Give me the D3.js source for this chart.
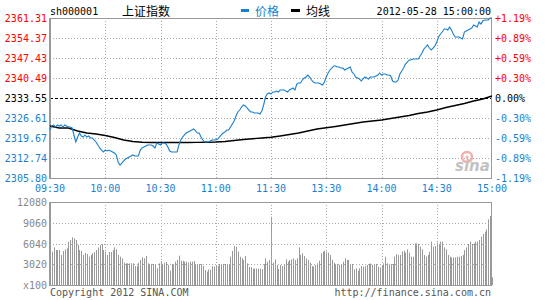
<!DOCTYPE html>
<html lang="zh">
<head>
<meta charset="UTF-8">
<title>上证指数 分时</title>
<script src="https://d3js.org/d3.v7.min.js"></script>
<style>
  body { margin: 0; background: #fff; }
  svg { display: block; }
  text { font-family: "DejaVu Sans Mono", monospace; font-size: 10px; }
  .cjk { font-family: "Noto Sans CJK SC", sans-serif; font-size: 12px; }
</style>
</head>
<body>
<svg id="chart" width="545" height="300"></svg>
<script>
// minute prices, 09:30 .. 11:30, 13:01 .. 15:00 (241 points)
const prices = [
  2322.45, 2323.84, 2324.19, 2323.49, 2324.19, 2323.84, 2324.19, 2323.49, 2324.19, 2323.84,
  2323.49, 2323.49, 2323.15, 2320.72, 2318.29, 2320.02, 2321.41, 2320.37, 2320.02, 2320.72,
  2320.02, 2320.37, 2319.68, 2319.68, 2318.98, 2318.29, 2317.25, 2316.21, 2315.51, 2314.82,
  2315.51, 2315.17, 2315.51, 2315.17, 2314.82, 2314.47, 2313.78, 2311.35, 2310.31, 2311.00,
  2311.70, 2312.39, 2312.74, 2313.09, 2313.43, 2313.78, 2313.43, 2313.43, 2313.43, 2315.51,
  2316.21, 2316.55, 2316.90, 2317.25, 2317.25, 2317.25, 2316.90, 2316.21, 2317.94, 2317.60,
  2317.25, 2317.94, 2317.94, 2317.60, 2316.55, 2315.17, 2314.82, 2314.82, 2314.82, 2314.82,
  2317.25, 2318.98, 2320.02, 2320.72, 2321.41, 2321.76, 2322.11, 2322.45, 2322.80, 2322.11,
  2321.41, 2321.41, 2320.02, 2318.98, 2318.29, 2318.29, 2318.29, 2318.64, 2318.98, 2318.98,
  2318.98, 2319.33, 2320.02, 2320.72, 2321.41, 2321.76, 2322.45, 2322.45, 2323.49, 2324.53,
  2325.58, 2327.31, 2328.70, 2329.39, 2330.43, 2331.13, 2330.78, 2330.09, 2329.39, 2328.70,
  2328.70, 2328.35, 2328.35, 2328.35, 2328.00, 2329.04, 2331.13, 2333.90, 2334.94, 2335.29,
  2334.94,
  2335.64, 2335.64, 2335.98, 2335.64, 2336.33, 2336.33, 2336.33, 2335.98, 2335.64,
  2336.33, 2336.68, 2337.02, 2336.33, 2338.41, 2338.76, 2338.76, 2339.80, 2340.49, 2340.84,
  2341.53, 2340.84, 2339.80, 2339.11, 2338.76, 2338.76, 2338.76, 2338.41, 2338.07, 2339.11,
  2340.84, 2342.23, 2343.27, 2343.96, 2344.66, 2344.66, 2344.31, 2344.31, 2343.96, 2343.96,
  2343.27, 2343.62, 2343.96, 2344.31, 2342.58, 2341.88, 2340.84, 2340.49, 2340.15, 2339.45,
  2340.15, 2340.84, 2340.49, 2340.15, 2340.84, 2340.84, 2340.84, 2341.19, 2341.53, 2342.23,
  2341.53, 2341.88, 2341.88, 2341.53, 2341.53, 2341.19, 2339.45, 2339.11, 2339.11, 2339.80,
  2341.88, 2342.92, 2343.96, 2345.35, 2346.04, 2346.74, 2346.74, 2347.09, 2347.09, 2347.09,
  2347.09, 2348.13, 2349.17, 2350.55, 2351.25, 2351.94, 2350.90, 2350.21, 2350.90, 2351.60,
  2352.98, 2354.72, 2355.76, 2356.45, 2357.49, 2357.49, 2357.15, 2358.19, 2357.15, 2355.76,
  2354.72, 2354.72, 2354.72, 2354.37, 2354.02, 2356.45, 2356.80, 2357.15, 2357.49, 2357.84,
  2358.88, 2358.53, 2358.19, 2359.92, 2359.23, 2360.27, 2360.62, 2360.62, 2360.62, 2361.31,
  2361.31
];

// average price line, read every 5 minutes
const avgMinutes = [0, 5, 10, 15, 20, 25, 30, 35, 40, 45, 50, 55, 60, 65, 70, 75, 80, 85, 90, 95,
  100, 105, 110, 115, 120, 125, 130, 135, 140, 145, 150, 155, 160, 165, 170, 175, 180, 185, 190,
  195, 200, 205, 210, 215, 220, 225, 230, 235, 240];
const avgPrices = [
  2323.84, 2323.15, 2323.15, 2322.11, 2321.41, 2321.06, 2320.54, 2319.85, 2318.98, 2318.46,
  2318.18, 2318.12, 2318.12, 2318.12, 2318.12, 2318.12, 2318.15, 2318.22, 2318.29, 2318.46,
  2318.81, 2319.16, 2319.43, 2319.68, 2319.92, 2320.37, 2320.89, 2321.41, 2322.11, 2322.80,
  2323.22, 2323.67, 2324.19, 2324.71, 2325.23, 2325.58, 2325.92, 2326.44, 2326.96, 2327.48,
  2328.18, 2328.70, 2329.39, 2330.26, 2330.95, 2331.65, 2332.51, 2333.21, 2334.25
];

// volume per minute (x100)
const volumes = [
  4800, 4850, 5480, 5090, 5090, 5090, 4370, 4950, 5190, 5340,
  6300, 6550, 6940, 6790, 6550, 5820, 5090, 4950, 4370, 4660,
  4510, 4120, 4370, 4610, 4800, 5090, 5480, 5820, 5970, 5090,
  4850, 4370, 4800, 4800, 5090, 5480, 5190, 4370, 4120, 3880,
  3250, 3150, 3150, 3150, 3150, 3150, 2760, 2760, 3250, 3640,
  4030, 3880, 4220, 3150, 3060, 3060, 3060, 2910, 2430, 3150,
  3490, 3060, 3250, 3350, 2910, 2090, 3060, 3060, 3400, 3640,
  4270, 3540, 3540, 3400, 3400, 3250, 3400, 3400, 3490, 3060,
  2910, 3060, 3060, 2760, 2180, 1940, 2280, 2180, 2760, 2670,
  2910, 2760, 3060, 3060, 3060, 3060, 3060, 3060, 4120, 4950,
  5680, 5580, 4850, 4120, 3880, 3640, 4220, 3150, 2620, 2620,
  2380, 2380, 2380, 2380, 2380, 2330, 3060, 3880, 3400, 3640,
  9940,
  3250, 3730, 2910, 2330, 2910, 2760, 2910, 3730, 3400, 3640,
  3730, 3880, 3640, 3880, 5480, 4370, 4610, 4220, 3880, 3640,
  3250, 2760, 2670, 2910, 3150, 3540, 4610, 4850, 5000, 4850,
  4710, 4370, 3640, 3250, 2910, 3060, 2910, 3060, 3400, 3880,
  3640, 3640, 3060, 3060, 2280, 2430, 2090, 2430, 2760, 2670,
  2760, 2910, 3060, 3150, 2910, 3060, 3060, 2670, 2570, 2910,
  3150, 4120, 3150, 3060, 3060, 3060, 4120, 4510, 4370, 4370,
  4850, 5000, 4710, 5190, 4710, 4120, 4120, 6060, 6060, 5970,
  5580, 5190, 4370, 4120, 4370, 4850, 6310, 5580, 5680, 6160,
  5970, 6310, 6310, 5480, 5190, 4370, 4120, 4020, 4020, 4020,
  4120, 4120, 4220, 4370, 5090, 5480, 5970, 6310, 5970, 6060,
  6310, 6310, 6550, 7030, 7420, 7760, 8100, 9550, 10040, 1110
];

const prevClose = 2333.55;
const priceTicks = [2361.31, 2354.37, 2347.43, 2340.49, 2333.55, 2326.61, 2319.67, 2312.74, 2305.80];
const pctTicks = ["+1.19%", "+0.89%", "+0.59%", "+0.30%", "0.00%", "-0.30%", "-0.59%", "-0.89%", "-1.19%"];
const timeMinutes = [0, 30, 60, 90, 120, 150, 180, 210, 240];
const timeLabels = ["09:30", "10:00", "10:30", "11:00", "11:30", "13:30", "14:00", "14:30", "15:00"];
const volTicks = [12080, 9060, 6040, 3020, 0];
const volTickLabels = ["12080", "9060", "6040", "3020", "x100"];

const RED = "#ff0000", BLUE = "#1a7fcc", GRID = "#a8a8a8", FRAME = "#999";

const svg = d3.select("#chart");

const x = d3.scaleLinear().domain([0, 240]).range([50, 492]);
const y = d3.scaleLinear().domain([2305.80, 2361.31]).range([178, 18]);
const yv = d3.scaleLinear().domain([0, 12080]).range([285, 202]);

const px = v => Math.round(v) + 0.5;

// ---------- main panel ----------
const main = svg.append("g");

// horizontal grid
main.selectAll("line.hg").data(priceTicks.filter(d => d !== prevClose && d !== 2361.31 && d !== 2305.80))
  .join("line").attr("class", "hg")
  .attr("x1", 50).attr("x2", 492)
  .attr("y1", d => px(y(d))).attr("y2", d => px(y(d)))
  .attr("stroke", GRID).attr("stroke-dasharray", "1,2");

// vertical grid
main.selectAll("line.vg").data(timeMinutes.slice(1, -1))
  .join("line").attr("class", "vg")
  .attr("x1", d => px(x(d))).attr("x2", d => px(x(d)))
  .attr("y1", 18).attr("y2", 178)
  .attr("stroke", GRID).attr("stroke-dasharray", "1,2");

// prev close baseline
main.append("line")
  .attr("x1", 50).attr("x2", 492)
  .attr("y1", px(y(prevClose))).attr("y2", px(y(prevClose)))
  .attr("stroke", "#000").attr("stroke-dasharray", "3,2");

// frame
main.append("rect").attr("x", 50.5).attr("y", 18.5).attr("width", 441).attr("height", 160)
  .attr("fill", "none").attr("stroke", FRAME);
main.append("line").attr("x1", 50).attr("x2", 50).attr("y1", 18).attr("y2", 179)
  .attr("stroke", FRAME).attr("stroke-width", 2);

// sina watermark
const wm = main.append("g").attr("opacity", 0.85);
wm.append("circle").attr("cx", 467).attr("cy", 157).attr("r", 5)
  .attr("fill", "none").attr("stroke", "#f3a3a3").attr("stroke-width", 2.5);
wm.append("circle").attr("cx", 467).attr("cy", 157).attr("r", 1.5).attr("fill", "#f3a3a3");
wm.append("text").attr("x", 455).attr("y", 171)
  .style("font-family", "DejaVu Sans").style("font-size", "15px")
  .style("font-style", "italic").style("font-weight", "bold")
  .attr("fill", "#b8b8b8").text("sina");

// average line
main.append("path")
  .datum(avgMinutes.map((m, i) => [m, avgPrices[i]]))
  .attr("fill", "none").attr("stroke", "#000").attr("stroke-width", 1.4)
  .attr("d", d3.line().x(d => x(d[0])).y(d => y(d[1])));

// price line
main.append("path")
  .datum(prices)
  .attr("fill", "none").attr("stroke", BLUE).attr("stroke-width", 1.1)
  .attr("d", d3.line().x((d, i) => x(i)).y(d => y(d)));

// left price labels
main.selectAll("text.pl").data(priceTicks).join("text").attr("class", "pl")
  .attr("x", 47).attr("y", d => y(d) + 4).attr("text-anchor", "end")
  .attr("fill", d => d > prevClose ? RED : d < prevClose ? BLUE : "#000")
  .text(d => d.toFixed(2));

// right percent labels
main.selectAll("text.pr").data(priceTicks).join("text").attr("class", "pr")
  .attr("x", 495).attr("y", d => y(d) + 4)
  .attr("fill", d => d > prevClose ? RED : d < prevClose ? BLUE : "#000")
  .text((d, i) => pctTicks[i]);

// time labels
main.selectAll("text.tl").data(timeMinutes).join("text").attr("class", "tl")
  .attr("x", d => x(d)).attr("y", 192).attr("text-anchor", "middle")
  .attr("fill", BLUE).text((d, i) => timeLabels[i]);

// ---------- header ----------
svg.append("text").attr("x", 50).attr("y", 15).attr("fill", "#000").text("sh000001");
svg.append("text").attr("class", "cjk").attr("x", 122).attr("y", 16).attr("fill", "#000").text("上证指数");
svg.append("rect").attr("x", 241).attr("y", 9).attr("width", 8).attr("height", 3).attr("fill", BLUE);
svg.append("text").attr("class", "cjk").attr("x", 255).attr("y", 16).attr("fill", BLUE).text("价格");
svg.append("rect").attr("x", 291).attr("y", 9).attr("width", 9).attr("height", 3).attr("fill", "#000");
svg.append("text").attr("class", "cjk").attr("x", 306).attr("y", 16).attr("fill", "#000").text("均线");
svg.append("text").attr("x", 491).attr("y", 15).attr("text-anchor", "end").attr("fill", "#000")
  .text("2012-05-28 15:00:00");

// ---------- volume panel ----------
const vol = svg.append("g");

vol.selectAll("line.bar").data(volumes).join("line").attr("class", "bar")
  .attr("x1", (d, i) => px(x(i))).attr("x2", (d, i) => px(x(i)))
  .attr("y1", yv(0)).attr("y2", d => yv(d))
  .attr("stroke", "#999");

vol.selectAll("line.hg").data(volTicks.slice(1, -1)).join("line").attr("class", "hg")
  .attr("x1", 50).attr("x2", 492)
  .attr("y1", d => px(yv(d))).attr("y2", d => px(yv(d)))
  .attr("stroke", GRID).attr("stroke-dasharray", "1,2");

vol.selectAll("line.vg").data(timeMinutes.slice(1, -1)).join("line").attr("class", "vg")
  .attr("x1", d => px(x(d))).attr("x2", d => px(x(d)))
  .attr("y1", 202).attr("y2", 285)
  .attr("stroke", GRID).attr("stroke-dasharray", "1,2");

vol.append("rect").attr("x", 50.5).attr("y", 202.5).attr("width", 441).attr("height", 83)
  .attr("fill", "none").attr("stroke", FRAME);
vol.append("line").attr("x1", 50).attr("x2", 50).attr("y1", 202).attr("y2", 286)
  .attr("stroke", FRAME).attr("stroke-width", 2);

vol.selectAll("text.vl").data(volTicks).join("text").attr("class", "vl")
  .attr("x", 47).attr("y", d => yv(d) + 4).attr("text-anchor", "end")
  .attr("fill", "#888").text((d, i) => volTickLabels[i]);

// ---------- footer ----------
svg.append("text").attr("x", 50).attr("y", 296).attr("fill", "#555").text("Copyright 2012 SINA.COM");
svg.append("text").attr("x", 491).attr("y", 296).attr("text-anchor", "end").attr("fill", "#555")
  .text("http://finance.sina.com.cn");
</script>
</body>
</html>
